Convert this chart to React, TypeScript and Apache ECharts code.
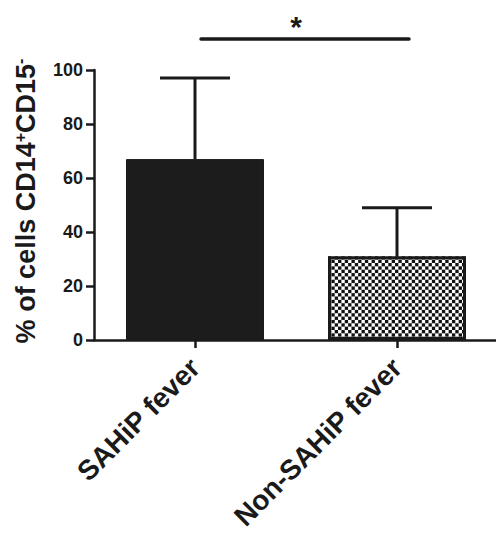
import React, { useEffect, useRef } from 'react';
import * as echarts from 'echarts';

const categories = ['SAHiP fever', 'Non-SAHiP fever'];
const means = [67, 31];
const errorTops = [97, 49];
const yMin = 0;
const yMax = 100;
const yInterval = 20;
const sigFrom = 0;
const sigTo = 1;
const sigLevel = 111.5;
const sigLabel = '*';

const INK = '#1a1a1a';
const FONT = '"Liberation Sans", Arial, Helvetica, sans-serif';

export default function App() {
  const ref = useRef<HTMLDivElement>(null);
  useEffect(() => {
    document.body.style.margin = '0';
    if (!ref.current) return;
    const chart = echarts.init(ref.current, undefined, { renderer: 'svg' });
    const BAR_W = 138;

    const option: any = {
      animation: false,
      backgroundColor: '#ffffff',
      grid: { left: 94, top: 70, width: 404, height: 270, containLabel: false, outerBoundsMode: 'none' },
      xAxis: {
        type: 'category',
        data: categories,
        axisLine: { show: true, lineStyle: { color: INK, width: 2.5 } },
        axisTick: { show: true, alignWithLabel: true, length: 8, lineStyle: { color: INK, width: 2.5 } },
        axisLabel: {
          interval: 0,
          rotate: 45,
          margin: 23,
          color: INK,
          fontSize: 28,
          fontWeight: 'bold',
          fontFamily: FONT,
        },
      },
      yAxis: {
        type: 'value',
        min: yMin,
        max: yMax,
        interval: yInterval,
        splitLine: { show: false },
        axisLine: { show: true, lineStyle: { color: INK, width: 2.5 } },
        axisTick: { show: true, length: 8, lineStyle: { color: INK, width: 2.5 } },
        axisLabel: {
          margin: 11,
          color: INK,
          fontSize: 18,
          fontWeight: 'bold',
          fontFamily: FONT,
        },
      },
      graphic: [
        {
          type: 'text',
          x: 26,
          y: 201,
          rotation: Math.PI / 2,
          style: {
            text: '{a|% of cells CD14}{s|+}{a|CD15}{s|-}',
            align: 'center',
            verticalAlign: 'middle',
            fill: INK,
            rich: {
              a: { fontSize: 27, fontWeight: 'bold', fontFamily: FONT, fill: INK, color: INK },
              s: { fontSize: 16, fontWeight: 'bold', fontFamily: FONT, fill: INK, color: INK, verticalAlign: 'top' },
            },
          },
        },
      ],
      series: [
        {
          type: 'custom',
          z: 2,
          clip: false,
          encode: { x: 0, y: 1 },
          data: [[1, means[1]]],
          renderItem: (params: any, api: any) => {
            const i = api.value(0);
            const top = api.coord([i, api.value(1)]);
            const bottom = api.coord([i, 0]);
            const s = 3.35;
            const x0 = top[0] - BAR_W / 2;
            const y0 = top[1];
            const h = bottom[1] - top[1];
            const children: any[] = [
              { type: 'rect', shape: { x: x0, y: y0, width: BAR_W, height: h }, style: { fill: '#ffffff' } },
            ];
            const rows = Math.ceil(h / s);
            const cols = Math.ceil(BAR_W / s);
            for (let r = 0; r < rows; r++) {
              for (let c = 0; c < cols; c++) {
                if ((r + c) % 2 !== 0) continue;
                const cx = x0 + c * s;
                const cy = y0 + r * s;
                const cw = Math.min(s, x0 + BAR_W - cx);
                const ch = Math.min(s, y0 + h - cy);
                if (cw <= 0 || ch <= 0) continue;
                children.push({ type: 'rect', shape: { x: cx, y: cy, width: cw, height: ch }, style: { fill: '#111111' } });
              }
            }
            return { type: 'group', children };
          },
        },
        {
          type: 'bar',
          z: 3,
          barWidth: BAR_W,
          data: [
            { value: means[0], itemStyle: { color: '#1c1c1c', borderColor: INK, borderWidth: 1 } },
            { value: means[1], itemStyle: { color: 'rgba(0,0,0,0)', borderColor: INK, borderWidth: 3 } },
          ],
        },
        {
          type: 'custom',
          z: 4,
          clip: false,
          encode: { x: 0, y: 1 },
          data: categories.map((_, i) => [i, means[i], errorTops[i]]),
          renderItem: (params: any, api: any) => {
            const i = api.value(0);
            const base = api.coord([i, api.value(1)]);
            const top = api.coord([i, api.value(2)]);
            const half = 35;
            const st = { stroke: INK, lineWidth: 3 };
            return {
              type: 'group',
              children: [
                { type: 'line', shape: { x1: base[0], y1: base[1], x2: top[0], y2: top[1] }, style: st },
                { type: 'line', shape: { x1: top[0] - half, y1: top[1], x2: top[0] + half, y2: top[1] }, style: st },
              ],
            };
          },
        },
        {
          type: 'custom',
          z: 5,
          clip: false,
          encode: { x: 0, y: 2 },
          data: [[sigFrom, sigTo, sigLevel]],
          renderItem: (params: any, api: any) => {
            const a = api.coord([api.value(0), api.value(2)]);
            const b = api.coord([api.value(1), api.value(2)]);
            return {
              type: 'group',
              children: [
                {
                  type: 'line',
                  shape: { x1: a[0] + 6, y1: a[1], x2: b[0] + 12, y2: b[1] },
                  style: { stroke: INK, lineWidth: 3.5, lineCap: 'round' },
                },
                {
                  type: 'text',
                  x: (a[0] + b[0]) / 2,
                  y: a[1] - 12,
                  style: {
                    text: sigLabel,
                    fill: INK,
                    fontSize: 30,
                    fontWeight: 'bold',
                    fontFamily: FONT,
                    align: 'center',
                    verticalAlign: 'middle',
                  },
                },
              ],
            };
          },
        },
      ],
    };
    chart.setOption(option);
    return () => chart.dispose();
  }, []);
  return <div ref={ref} style={{ width: 496, height: 541 }} />;
}
